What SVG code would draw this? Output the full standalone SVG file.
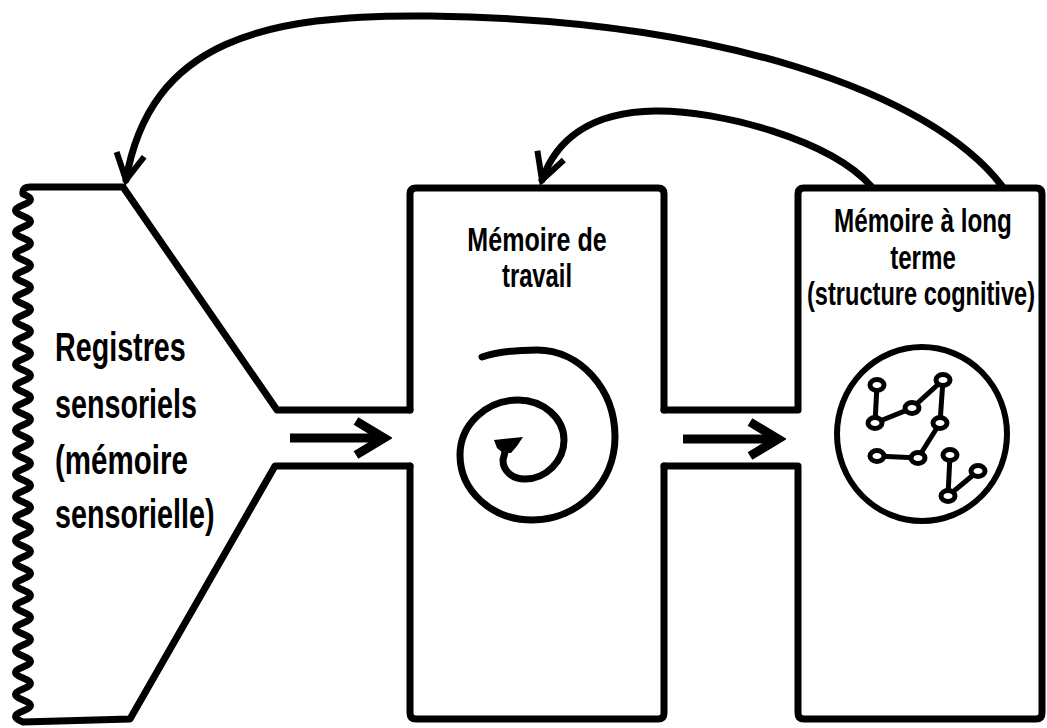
<svg xmlns="http://www.w3.org/2000/svg" width="1047" height="728" viewBox="0 0 1047 728">
  <style>
    .outline { fill: none; stroke: #000; stroke-width: 7; stroke-linejoin: round; stroke-linecap: round; }
    .link { fill: none; stroke: #000; stroke-width: 7; stroke-linecap: round; }
    .flow { fill: none; stroke: #000; stroke-width: 9; stroke-linecap: butt; }
    .net { fill: none; stroke: #000; stroke-width: 5; stroke-linecap: round; }
    .node { fill: #fff; stroke: #000; stroke-width: 5; }
    .label { font-family: "Liberation Sans", Arial, sans-serif; font-weight: bold; fill: #000; }
    .big { font-size: 41px; }
    .small { font-size: 33px; text-anchor: middle; }
  </style>
  <defs>
    <marker id="chev" markerUnits="userSpaceOnUse" viewBox="-36 -24 44 48" markerWidth="44" markerHeight="48" refX="0" refY="0" orient="auto">
      <path d="M -28,-17 L 0,0 L -28,17" fill="none" stroke="#000" stroke-width="9" stroke-linejoin="miter"/>
    </marker>
    <marker id="vhead" markerUnits="userSpaceOnUse" viewBox="-32 -20 40 40" markerWidth="40" markerHeight="40" refX="0" refY="0" orient="auto">
      <path d="M -26,-14 L 0,0 L -26,14" fill="none" stroke="#000" stroke-width="6" stroke-linejoin="miter"/>
    </marker>
  </defs>

  <!-- sensory registers: wavy input edge narrowing into a channel -->
  <g id="sensory">
    <path class="outline" d="M 410,410 L 277,410 L 123,187 L 30,187 Q 22,187 23,194 q 15,5.5 0,11 t 0,11 t 0,11 t 0,11 t 0,11 t 0,11 t 0,11 t 0,11 t 0,11 t 0,11 t 0,11 t 0,11 t 0,11 t 0,11 t 0,11 t 0,11 t 0,11 t 0,11 t 0,11 t 0,11 t 0,11 t 0,11 t 0,11 t 0,11 t 0,11 t 0,11 t 0,11 t 0,11 t 0,11 t 0,11 t 0,11 t 0,11 t 0,11 t 0,11 t 0,11 t 0,11 t 0,11 t 0,11 t 0,11 t 0,11 t 0,11 t 0,11 t 0,11 t 0,11 t 0,11 t 0,11 t 0,11 t 0,11 L 130,719 L 275,466 L 410,466"/>
    <text class="label big" transform="translate(55,361) scale(0.7,1)">Registres</text>
    <text class="label big" transform="translate(55,418) scale(0.7,1)">sensoriels</text>
    <text class="label big" transform="translate(55,474) scale(0.72,1)">(mémoire</text>
    <text class="label big" transform="translate(55,528) scale(0.7,1)">sensorielle)</text>
  </g>

  <!-- working memory box with its processing spiral -->
  <g id="working">
    <path class="outline" d="M 410,410 L 410,194 Q 410,188 416,188 L 658,188 Q 664,188 664,194 L 664,410"/>
    <path class="outline" d="M 410,466 L 410,713 Q 410,719 416,719 L 658,719 Q 664,719 664,713 L 664,466"/>
    <text class="label small" transform="translate(537,251) scale(0.76,1)">Mémoire de</text>
    <text class="label small" transform="translate(537,287) scale(0.72,1)">travail</text>
    <path class="link" stroke-linecap="butt" d="M 482,357 C 497,352 517,350 537,350 C 580,350 615,389 615,437 C 615,483 578,520 532,520 C 492,520 460,491 460,455 C 460,425 486,400 518,400 C 543,400 564,418 564,440 C 564,461 546,479 525,479 C 511,479 503,470 503,460 L 506,448"/>
    <polygon points="494,440 523,437 517,446 511,453 503,453 497,448" fill="#000"/>
  </g>

  <!-- long-term memory box with its knowledge network -->
  <g id="longterm">
    <path class="outline" d="M 664,410 L 798,410 L 798,194 Q 798,188 804,188 L 1036,188 Q 1042,188 1042,194 L 1042,713 Q 1042,719 1036,719 L 804,719 Q 798,719 798,713 L 798,466 L 664,466"/>
    <text class="label small" transform="translate(923,232) scale(0.735,1)">Mémoire à long</text>
    <text class="label small" transform="translate(923,269) scale(0.73,1)">terme</text>
    <text class="label small" transform="translate(921,305) scale(0.715,1)">(structure cognitive)</text>
    <ellipse cx="922" cy="434" rx="85" ry="87" fill="none" stroke="#000" stroke-width="6"/>
    <g class="net">
      <path d="M 877,385 L 875,423 L 912,408 L 943,380 L 940,423 L 918,458 L 877,456"/>
      <path d="M 950,455 L 948,496 L 978,471"/>
    </g>
    <g>
      <ellipse class="node" cx="877" cy="385" rx="7" ry="5.5"/>
      <ellipse class="node" cx="943" cy="380" rx="7" ry="5.5"/>
      <ellipse class="node" cx="912" cy="408" rx="7" ry="5.5"/>
      <ellipse class="node" cx="875" cy="423" rx="7" ry="5.5"/>
      <ellipse class="node" cx="940" cy="423" rx="7" ry="5.5"/>
      <ellipse class="node" cx="877" cy="456" rx="7" ry="5.5"/>
      <ellipse class="node" cx="918" cy="458" rx="7" ry="5.5"/>
      <ellipse class="node" cx="950" cy="455" rx="7" ry="5.5"/>
      <ellipse class="node" cx="978" cy="471" rx="7" ry="5.5"/>
      <ellipse class="node" cx="948" cy="496" rx="7" ry="5.5"/>
    </g>
  </g>

  <!-- connectors: forward flow and feedback loops -->
  <g id="connectors">
    <path class="flow" d="M 290,438 L 384,438" marker-end="url(#chev)"/>
    <path class="flow" d="M 683,439 L 778,439" marker-end="url(#chev)"/>
    <path class="link" d="M 1002,186 C 930,92 720,20 430,16 C 265,14 150,40 126,180" marker-end="url(#vhead)"/>
    <path class="link" d="M 871,186 C 830,140 720,110 655,111 C 590,112 556,140 542,180" marker-end="url(#vhead)"/>
  </g>
</svg>
